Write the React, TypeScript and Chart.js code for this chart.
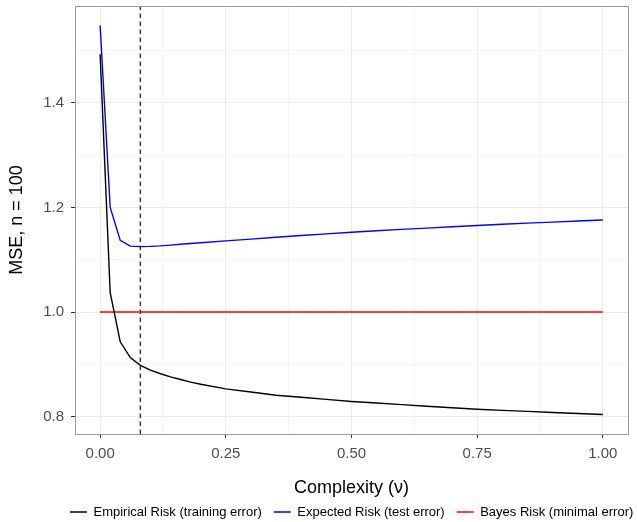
import React, { useEffect, useRef } from 'react';
import { Chart, registerables } from 'chart.js';

Chart.register(...registerables);

// ---- data ----
const complexity = [0, 0.02, 0.04, 0.06, 0.08, 0.1, 0.12, 0.14, 0.16, 0.18, 0.2, 0.25, 0.3, 0.35, 0.4, 0.45, 0.5, 0.55, 0.6, 0.65, 0.7, 0.75, 0.8, 0.85, 0.9, 0.95, 1.0];
const empiricalRisk = [1.493, 1.037, 0.943, 0.913, 0.898, 0.889, 0.882, 0.876, 0.871, 0.866, 0.862, 0.853, 0.847, 0.841, 0.837, 0.833, 0.829, 0.826, 0.823, 0.82, 0.817, 0.814, 0.812, 0.81, 0.808, 0.806, 0.804];
const expectedRisk = [1.548, 1.2, 1.137, 1.126, 1.125, 1.1255, 1.1265, 1.128, 1.1295, 1.131, 1.1325, 1.136, 1.1395, 1.143, 1.1465, 1.1495, 1.1525, 1.1555, 1.158, 1.1605, 1.163, 1.1655, 1.168, 1.17, 1.172, 1.174, 1.176];
const bayesComplexity = [0, 1];
const bayesRisk = [1, 1];
const optimumComplexity = 0.08;

const seriesLabels = ['Empirical Risk (training error)', 'Expected Risk (test error)', 'Bayes Risk (minimal error)'];
const seriesColors = ['#000000', '#0000FF', '#FF0000'];

const xMajorTicks = [0, 0.25, 0.5, 0.75, 1];
const xMinorTicks = [0.125, 0.375, 0.625, 0.875];
const yMajorTicks = [0.8, 1.0, 1.2, 1.4];
const yMinorTicks = [0.9, 1.1, 1.3, 1.5];
const xLimits = [-0.05, 1.05];
const yLimits = [0.7668, 1.5852];

const xTitle = 'Complexity (\u03bd)';
const yTitle = 'MSE, n = 100';

const FONT = "'Liberation Sans', Arial, Helvetica, sans-serif";

const isIn = (list: number[], v: number) => list.some((m) => Math.abs(m - v) < 1e-9);

const zip = (xs: number[], ys: number[]) => xs.map((x, i) => ({ x, y: ys[i] }));

export default function App() {
  const ref = useRef<HTMLCanvasElement | null>(null);

  useEffect(() => {
    document.body.style.margin = '0';
    const canvas = ref.current;
    if (!canvas) return;
    Chart.defaults.font.family = FONT;

    const framePlugin = {
      id: 'frame',
      afterLayout(chart: any) {
        const lg = chart.legend;
        if (lg) {
          lg.top += 6.5;
          lg.bottom += 6.5;
          lg.left = 58;
          lg.right = 720;
        }
      },
      afterDraw(chart: any) {
        const { ctx, chartArea } = chart;
        ctx.save();
        ctx.strokeStyle = '#9a9a9a';
        ctx.lineWidth = 1;
        ctx.strokeRect(chartArea.left + 0.5, chartArea.top + 0.5, chartArea.right - chartArea.left, chartArea.bottom - chartArea.top);
        ctx.restore();
      },
    };

    const gridColor = (majors: number[]) => (c: any) =>
      c.tick && isIn(majors, c.tick.value) ? '#EBEBEB' : '#F4F4F4';
    const tickColor = (majors: number[]) => (c: any) =>
      c.tick && isIn(majors, c.tick.value) ? '#333333' : 'rgba(0,0,0,0)';

    const lineDataset = (i: number, xs: number[], ys: number[]) => ({
      label: seriesLabels[i],
      data: zip(xs, ys),
      borderColor: seriesColors[i],
      backgroundColor: seriesColors[i],
      borderWidth: 1.4,
      pointRadius: 0,
      tension: 0,
    });

    const chart = new Chart(canvas, {
      type: 'line',
      data: {
        datasets: [
          lineDataset(0, complexity, empiricalRisk),
          lineDataset(1, complexity, expectedRisk),
          lineDataset(2, bayesComplexity, bayesRisk),
          {
            label: '',
            data: [
              { x: optimumComplexity, y: yLimits[0] },
              { x: optimumComplexity, y: yLimits[1] },
            ],
            borderColor: '#333333',
            backgroundColor: '#333333',
            borderWidth: 1.4,
            borderDash: [4.5, 3.5],
            pointRadius: 0,
          },
        ],
      },
      options: {
        animation: false,
        responsive: false,
        devicePixelRatio: 1,
        events: [],
        layout: { padding: { top: 6, right: 9, bottom: 0, left: 0 } },
        plugins: {
          tooltip: { enabled: false },
          legend: {
            position: 'bottom',
            align: 'start',
            labels: {
              usePointStyle: true,
              pointStyle: 'line',
              pointStyleWidth: 17,
              padding: 12,
              color: '#000000',
              font: { size: 13, family: FONT },
              filter: (item: any) => item.text !== '',
            },
          },
        },
        scales: {
          x: {
            type: 'linear',
            min: xLimits[0],
            max: xLimits[1],
            afterBuildTicks: (s: any) => {
              s.ticks = [...xMajorTicks, ...xMinorTicks].sort((a, b) => a - b).map((v) => ({ value: v }));
            },
            afterFit: (s: any) => {
              s.height = 53;
              s.paddingLeft = 0;
              s.paddingRight = 0;
              s.paddingTop = 0;
              s.paddingBottom = 0;
            },
            ticks: {
              autoSkip: false,
              maxRotation: 0,
              minRotation: 0,
              padding: 7,
              color: '#4D4D4D',
              font: { size: 15, family: FONT },
              callback: (v: any) => (isIn(xMajorTicks, Number(v)) ? Number(v).toFixed(2) : ''),
            },
            grid: {
              color: gridColor(xMajorTicks),
              lineWidth: 1,
              tickLength: 4,
              tickColor: tickColor(xMajorTicks),
              tickWidth: 1,
            },
            border: { display: false },
            title: {
              display: true,
              text: xTitle,
              color: '#000000',
              font: { size: 18, family: FONT },
              padding: { top: 0, bottom: -12 },
            },
          },
          y: {
            type: 'linear',
            min: yLimits[0],
            max: yLimits[1],
            afterBuildTicks: (s: any) => {
              s.ticks = [...yMajorTicks, ...yMinorTicks].sort((a, b) => a - b).map((v) => ({ value: v }));
            },
            afterFit: (s: any) => {
              s.width = 75;
              s.paddingLeft = 0;
              s.paddingRight = 0;
              s.paddingTop = 0;
              s.paddingBottom = 0;
            },
            ticks: {
              autoSkip: false,
              padding: 7,
              color: '#4D4D4D',
              font: { size: 15, family: FONT },
              callback: (v: any) => (isIn(yMajorTicks, Number(v)) ? Number(v).toFixed(1) : ''),
            },
            grid: {
              color: gridColor(yMajorTicks),
              lineWidth: 1,
              tickLength: 4,
              tickColor: tickColor(yMajorTicks),
              tickWidth: 1,
            },
            border: { display: false },
            title: {
              display: true,
              text: yTitle,
              color: '#000000',
              font: { size: 18, family: FONT },
              padding: { top: 6, bottom: 0 },
            },
          },
        },
      },
      plugins: [framePlugin],
    } as any);

    return () => chart.destroy();
  }, []);

  return (
    <div style={{ width: 637, height: 522 }}>
      <canvas ref={ref} width={637} height={522} style={{ display: 'block' }} />
    </div>
  );
}
